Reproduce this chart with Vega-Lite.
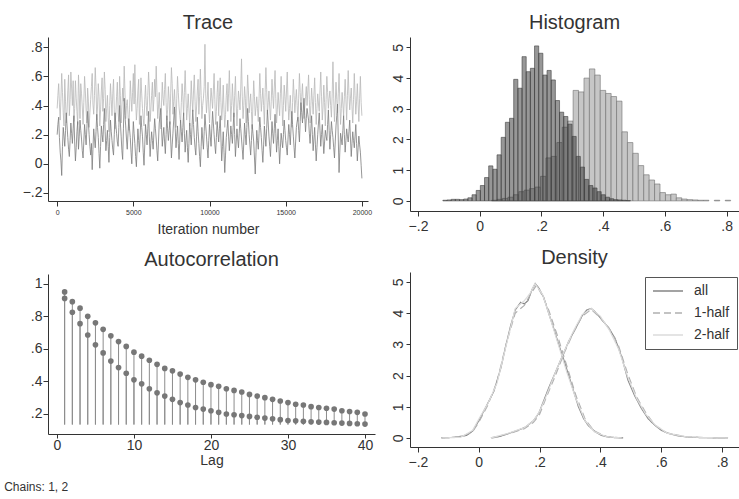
{
"$schema":"https://vega.github.io/schema/vega-lite/v6.json",
"background":"white",
"padding":{"left":4,"top":13,"right":0,"bottom":0},
"config":{"font":"Liberation Sans","view":{"stroke":null},
"axis":{"grid":false,"domainColor":"#333","tickColor":"#333","tickSize":5,"labelColor":"#333","labelFontSize":14,"labelFont":"Liberation Sans","titleFont":"Liberation Sans","titleFontSize":14,"titleFontWeight":"normal","titleColor":"#333","labelPadding":2,"domainWidth":1,"labelOverlap":false,"labelFlush":false,"labelBound":false,"tickCount":12},
"title":{"fontSize":20,"fontWeight":"normal","color":"#333","font":"Liberation Sans","offset":4}},
"title":{"text":"Chains: 1, 2","orient":"bottom","anchor":"start","fontSize":12,"fontWeight":"normal","color":"#333","dx":-18,"offset":13},
"datasets":{
"trace2":[{"t":0,"v":0.38},{"t":50,"v":0.47},{"t":100,"v":0.55},{"t":150,"v":0.41},{"t":200,"v":0.30},{"t":250,"v":0.45},{"t":300,"v":0.62},{"t":350,"v":0.49},{"t":400,"v":0.35},{"t":450,"v":0.26},{"t":500,"v":0.58},{"t":550,"v":0.43},{"t":600,"v":0.28},{"t":650,"v":0.36},{"t":700,"v":0.50},{"t":750,"v":0.61},{"t":800,"v":0.33},{"t":850,"v":0.44},{"t":900,"v":0.63},{"t":950,"v":0.52},{"t":1000,"v":0.40},{"t":1050,"v":0.57},{"t":1100,"v":0.29},{"t":1150,"v":0.38},{"t":1200,"v":0.57},{"t":1250,"v":0.45},{"t":1300,"v":0.36},{"t":1350,"v":0.27},{"t":1400,"v":0.61},{"t":1450,"v":0.48},{"t":1500,"v":0.31},{"t":1550,"v":0.55},{"t":1600,"v":0.48},{"t":1650,"v":0.39},{"t":1700,"v":0.27},{"t":1750,"v":0.42},{"t":1800,"v":0.60},{"t":1850,"v":0.50},{"t":1900,"v":0.37},{"t":1950,"v":0.28},{"t":2000,"v":0.52},{"t":2050,"v":0.43},{"t":2100,"v":0.25},{"t":2150,"v":0.35},{"t":2200,"v":0.44},{"t":2250,"v":0.53},{"t":2300,"v":0.62},{"t":2350,"v":0.41},{"t":2400,"v":0.34},{"t":2450,"v":0.47},{"t":2500,"v":0.66},{"t":2550,"v":0.53},{"t":2600,"v":0.30},{"t":2650,"v":0.39},{"t":2700,"v":0.55},{"t":2750,"v":0.46},{"t":2800,"v":0.26},{"t":2850,"v":0.37},{"t":2900,"v":0.50},{"t":2950,"v":0.59},{"t":3000,"v":0.36},{"t":3050,"v":0.45},{"t":3100,"v":0.63},{"t":3150,"v":0.51},{"t":3200,"v":0.29},{"t":3250,"v":0.38},{"t":3300,"v":0.47},{"t":3350,"v":0.32},{"t":3400,"v":0.22},{"t":3450,"v":0.40},{"t":3500,"v":0.55},{"t":3550,"v":0.44},{"t":3600,"v":0.33},{"t":3650,"v":0.48},{"t":3700,"v":0.58},{"t":3750,"v":0.37},{"t":3800,"v":0.24},{"t":3850,"v":0.34},{"t":3900,"v":0.46},{"t":3950,"v":0.56},{"t":4000,"v":0.35},{"t":4050,"v":0.29},{"t":4100,"v":0.60},{"t":4150,"v":0.47},{"t":4200,"v":0.28},{"t":4250,"v":0.39},{"t":4300,"v":0.52},{"t":4350,"v":0.43},{"t":4400,"v":0.67},{"t":4450,"v":0.50},{"t":4500,"v":0.31},{"t":4550,"v":0.40},{"t":4600,"v":0.44},{"t":4650,"v":0.34},{"t":4700,"v":0.23},{"t":4750,"v":0.37},{"t":4800,"v":0.57},{"t":4850,"v":0.46},{"t":4900,"v":0.36},{"t":4950,"v":0.49},{"t":5000,"v":0.62},{"t":5050,"v":0.41},{"t":5100,"v":0.68},{"t":5150,"v":0.45},{"t":5200,"v":0.30},{"t":5250,"v":0.38},{"t":5300,"v":0.50},{"t":5350,"v":0.58},{"t":5400,"v":0.27},{"t":5450,"v":0.42},{"t":5500,"v":0.59},{"t":5550,"v":0.48},{"t":5600,"v":0.38},{"t":5650,"v":0.31},{"t":5700,"v":0.26},{"t":5750,"v":0.44},{"t":5800,"v":0.54},{"t":5850,"v":0.40},{"t":5900,"v":0.33},{"t":5950,"v":0.47},{"t":6000,"v":0.63},{"t":6050,"v":0.52},{"t":6100,"v":0.29},{"t":6150,"v":0.37},{"t":6200,"v":0.47},{"t":6250,"v":0.56},{"t":6300,"v":0.36},{"t":6350,"v":0.44},{"t":6400,"v":0.58},{"t":6450,"v":0.46},{"t":6500,"v":0.67},{"t":6550,"v":0.49},{"t":6600,"v":0.31},{"t":6650,"v":0.39},{"t":6700,"v":0.49},{"t":6750,"v":0.35},{"t":6800,"v":0.24},{"t":6850,"v":0.41},{"t":6900,"v":0.56},{"t":6950,"v":0.45},{"t":7000,"v":0.40},{"t":7050,"v":0.51},{"t":7100,"v":0.62},{"t":7150,"v":0.42},{"t":7200,"v":0.30},{"t":7250,"v":0.37},{"t":7300,"v":0.53},{"t":7350,"v":0.44},{"t":7400,"v":0.27},{"t":7450,"v":0.48},{"t":7500,"v":0.66},{"t":7550,"v":0.55},{"t":7600,"v":0.34},{"t":7650,"v":0.43},{"t":7700,"v":0.51},{"t":7750,"v":0.38},{"t":7800,"v":0.25},{"t":7850,"v":0.45},{"t":7900,"v":0.60},{"t":7950,"v":0.49},{"t":8000,"v":0.39},{"t":8050,"v":0.33},{"t":8100,"v":0.28},{"t":8150,"v":0.42},{"t":8200,"v":0.55},{"t":8250,"v":0.46},{"t":8300,"v":0.33},{"t":8350,"v":0.49},{"t":8400,"v":0.64},{"t":8450,"v":0.47},{"t":8500,"v":0.30},{"t":8550,"v":0.38},{"t":8600,"v":0.48},{"t":8650,"v":0.37},{"t":8700,"v":0.26},{"t":8750,"v":0.41},{"t":8800,"v":0.57},{"t":8850,"v":0.44},{"t":8900,"v":0.36},{"t":8950,"v":0.50},{"t":9000,"v":0.61},{"t":9050,"v":0.43},{"t":9100,"v":0.29},{"t":9150,"v":0.39},{"t":9200,"v":0.50},{"t":9250,"v":0.58},{"t":9300,"v":0.34},{"t":9350,"v":0.46},{"t":9400,"v":0.65},{"t":9450,"v":0.47},{"t":9500,"v":0.31},{"t":9550,"v":0.40},{"t":9600,"v":0.45},{"t":9650,"v":0.53},{"t":9700,"v":0.82},{"t":9750,"v":0.48},{"t":9800,"v":0.35},{"t":9850,"v":0.44},{"t":9900,"v":0.56},{"t":9950,"v":0.39},{"t":10000,"v":0.28},{"t":10050,"v":0.41},{"t":10100,"v":0.52},{"t":10150,"v":0.45},{"t":10200,"v":0.38},{"t":10250,"v":0.50},{"t":10300,"v":0.62},{"t":10350,"v":0.44},{"t":10400,"v":0.27},{"t":10450,"v":0.36},{"t":10500,"v":0.49},{"t":10550,"v":0.57},{"t":10600,"v":0.33},{"t":10650,"v":0.46},{"t":10700,"v":0.59},{"t":10750,"v":0.42},{"t":10800,"v":0.30},{"t":10850,"v":0.39},{"t":10900,"v":0.54},{"t":10950,"v":0.37},{"t":11000,"v":0.25},{"t":11050,"v":0.34},{"t":11100,"v":0.47},{"t":11150,"v":0.55},{"t":11200,"v":0.36},{"t":11250,"v":0.48},{"t":11300,"v":0.64},{"t":11350,"v":0.45},{"t":11400,"v":0.29},{"t":11450,"v":0.40},{"t":11500,"v":0.55},{"t":11550,"v":0.43},{"t":11600,"v":0.32},{"t":11650,"v":0.47},{"t":11700,"v":0.60},{"t":11750,"v":0.41},{"t":11800,"v":0.26},{"t":11850,"v":0.38},{"t":11900,"v":0.50},{"t":11950,"v":0.44},{"t":12000,"v":0.37},{"t":12050,"v":0.52},{"t":12100,"v":0.72},{"t":12150,"v":0.46},{"t":12200,"v":0.31},{"t":12250,"v":0.40},{"t":12300,"v":0.53},{"t":12350,"v":0.45},{"t":12400,"v":0.28},{"t":12450,"v":0.43},{"t":12500,"v":0.61},{"t":12550,"v":0.50},{"t":12600,"v":0.35},{"t":12650,"v":0.42},{"t":12700,"v":0.48},{"t":12750,"v":0.36},{"t":12800,"v":0.24},{"t":12850,"v":0.41},{"t":12900,"v":0.57},{"t":12950,"v":0.46},{"t":13000,"v":0.33},{"t":13050,"v":0.39},{"t":13100,"v":0.46},{"t":13150,"v":0.38},{"t":13200,"v":0.29},{"t":13250,"v":0.45},{"t":13300,"v":0.62},{"t":13350,"v":0.48},{"t":13400,"v":0.36},{"t":13450,"v":0.44},{"t":13500,"v":0.52},{"t":13550,"v":0.40},{"t":13600,"v":0.27},{"t":13650,"v":0.49},{"t":13700,"v":0.66},{"t":13750,"v":0.51},{"t":13800,"v":0.34},{"t":13850,"v":0.42},{"t":13900,"v":0.50},{"t":13950,"v":0.39},{"t":14000,"v":0.30},{"t":14050,"v":0.43},{"t":14100,"v":0.58},{"t":14150,"v":0.47},{"t":14200,"v":0.38},{"t":14250,"v":0.52},{"t":14300,"v":0.64},{"t":14350,"v":0.45},{"t":14400,"v":0.28},{"t":14450,"v":0.37},{"t":14500,"v":0.49},{"t":14550,"v":0.41},{"t":14600,"v":0.33},{"t":14650,"v":0.48},{"t":14700,"v":0.60},{"t":14750,"v":0.44},{"t":14800,"v":0.26},{"t":14850,"v":0.40},{"t":14900,"v":0.54},{"t":14950,"v":0.46},{"t":15000,"v":0.36},{"t":15050,"v":0.50},{"t":15100,"v":0.63},{"t":15150,"v":0.43},{"t":15200,"v":0.30},{"t":15250,"v":0.38},{"t":15300,"v":0.47},{"t":15350,"v":0.35},{"t":15400,"v":0.25},{"t":15450,"v":0.42},{"t":15500,"v":0.58},{"t":15550,"v":0.47},{"t":15600,"v":0.35},{"t":15650,"v":0.44},{"t":15700,"v":0.51},{"t":15750,"v":0.40},{"t":15800,"v":0.29},{"t":15850,"v":0.45},{"t":15900,"v":0.62},{"t":15950,"v":0.49},{"t":16000,"v":0.37},{"t":16050,"v":0.46},{"t":16100,"v":0.55},{"t":16150,"v":0.41},{"t":16200,"v":0.31},{"t":16250,"v":0.39},{"t":16300,"v":0.46},{"t":16350,"v":0.53},{"t":16400,"v":0.40},{"t":16450,"v":0.50},{"t":16500,"v":0.61},{"t":16550,"v":0.44},{"t":16600,"v":0.28},{"t":16650,"v":0.40},{"t":16700,"v":0.52},{"t":16750,"v":0.43},{"t":16800,"v":0.34},{"t":16850,"v":0.47},{"t":16900,"v":0.59},{"t":16950,"v":0.42},{"t":17000,"v":0.27},{"t":17050,"v":0.38},{"t":17100,"v":0.48},{"t":17150,"v":0.41},{"t":17200,"v":0.36},{"t":17250,"v":0.50},{"t":17300,"v":0.63},{"t":17350,"v":0.46},{"t":17400,"v":0.30},{"t":17450,"v":0.39},{"t":17500,"v":0.54},{"t":17550,"v":0.42},{"t":17600,"v":0.26},{"t":17650,"v":0.44},{"t":17700,"v":0.60},{"t":17750,"v":0.49},{"t":17800,"v":0.38},{"t":17850,"v":0.45},{"t":17900,"v":0.50},{"t":17950,"v":0.40},{"t":18000,"v":0.32},{"t":18050,"v":0.48},{"t":18100,"v":0.70},{"t":18150,"v":0.45},{"t":18200,"v":0.29},{"t":18250,"v":0.41},{"t":18300,"v":0.56},{"t":18350,"v":0.44},{"t":18400,"v":0.35},{"t":18450,"v":0.48},{"t":18500,"v":0.62},{"t":18550,"v":0.43},{"t":18600,"v":0.27},{"t":18650,"v":0.38},{"t":18700,"v":0.49},{"t":18750,"v":0.41},{"t":18800,"v":0.33},{"t":18850,"v":0.46},{"t":18900,"v":0.58},{"t":18950,"v":0.44},{"t":19000,"v":0.30},{"t":19050,"v":0.47},{"t":19100,"v":0.64},{"t":19150,"v":0.48},{"t":19200,"v":0.37},{"t":19250,"v":0.45},{"t":19300,"v":0.52},{"t":19350,"v":0.39},{"t":19400,"v":0.28},{"t":19450,"v":0.44},{"t":19500,"v":0.62},{"t":19550,"v":0.47},{"t":19600,"v":0.34},{"t":19650,"v":0.43},{"t":19700,"v":0.55},{"t":19750,"v":0.41},{"t":19800,"v":0.29},{"t":19850,"v":0.45},{"t":19900,"v":0.60},{"t":19950,"v":0.42},{"t":20000,"v":0.33}],
"trace1":[{"t":0,"v":0.20},{"t":50,"v":0.27},{"t":100,"v":0.32},{"t":150,"v":0.18},{"t":200,"v":0.08},{"t":250,"v":0.02},{"t":300,"v":-0.08},{"t":350,"v":0.12},{"t":400,"v":0.25},{"t":450,"v":0.19},{"t":500,"v":0.12},{"t":550,"v":0.23},{"t":600,"v":0.35},{"t":650,"v":0.26},{"t":700,"v":0.18},{"t":750,"v":0.10},{"t":800,"v":0.05},{"t":850,"v":0.16},{"t":900,"v":0.28},{"t":950,"v":0.21},{"t":1000,"v":0.14},{"t":1050,"v":0.24},{"t":1100,"v":0.33},{"t":1150,"v":0.15},{"t":1200,"v":0.02},{"t":1250,"v":0.11},{"t":1300,"v":0.22},{"t":1350,"v":0.29},{"t":1400,"v":0.10},{"t":1450,"v":0.19},{"t":1500,"v":0.30},{"t":1550,"v":0.23},{"t":1600,"v":0.17},{"t":1650,"v":0.09},{"t":1700,"v":0.04},{"t":1750,"v":0.15},{"t":1800,"v":0.27},{"t":1850,"v":0.20},{"t":1900,"v":0.13},{"t":1950,"v":0.24},{"t":2000,"v":0.36},{"t":2050,"v":0.28},{"t":2100,"v":0.20},{"t":2150,"v":0.12},{"t":2200,"v":0.06},{"t":2250,"v":0.14},{"t":2300,"v":-0.04},{"t":2350,"v":0.10},{"t":2400,"v":0.24},{"t":2450,"v":0.17},{"t":2500,"v":0.11},{"t":2550,"v":0.22},{"t":2600,"v":0.34},{"t":2650,"v":0.25},{"t":2700,"v":0.18},{"t":2750,"v":0.07},{"t":2800,"v":-0.03},{"t":2850,"v":0.12},{"t":2900,"v":0.26},{"t":2950,"v":0.20},{"t":3000,"v":0.15},{"t":3050,"v":0.27},{"t":3100,"v":0.38},{"t":3150,"v":0.22},{"t":3200,"v":0.09},{"t":3250,"v":0.16},{"t":3300,"v":0.23},{"t":3350,"v":0.12},{"t":3400,"v":0.01},{"t":3450,"v":0.18},{"t":3500,"v":0.30},{"t":3550,"v":0.22},{"t":3600,"v":0.16},{"t":3650,"v":0.10},{"t":3700,"v":0.06},{"t":3750,"v":0.20},{"t":3800,"v":0.35},{"t":3850,"v":0.27},{"t":3900,"v":0.21},{"t":3950,"v":0.15},{"t":4000,"v":0.12},{"t":4050,"v":0.25},{"t":4100,"v":0.40},{"t":4150,"v":0.28},{"t":4200,"v":0.19},{"t":4250,"v":0.09},{"t":4300,"v":0.03},{"t":4350,"v":0.24},{"t":4400,"v":0.45},{"t":4450,"v":0.33},{"t":4500,"v":0.26},{"t":4550,"v":0.17},{"t":4600,"v":0.10},{"t":4650,"v":0.21},{"t":4700,"v":0.31},{"t":4750,"v":0.24},{"t":4800,"v":0.18},{"t":4850,"v":0.08},{"t":4900,"v":0.00},{"t":4950,"v":0.15},{"t":5000,"v":0.29},{"t":5050,"v":0.21},{"t":5100,"v":0.14},{"t":5150,"v":0.05},{"t":5200,"v":-0.02},{"t":5250,"v":0.11},{"t":5300,"v":0.24},{"t":5350,"v":0.16},{"t":5400,"v":0.08},{"t":5450,"v":0.20},{"t":5500,"v":0.33},{"t":5550,"v":0.25},{"t":5600,"v":0.19},{"t":5650,"v":0.08},{"t":5700,"v":-0.01},{"t":5750,"v":0.13},{"t":5800,"v":0.27},{"t":5850,"v":0.20},{"t":5900,"v":0.13},{"t":5950,"v":0.24},{"t":6000,"v":0.36},{"t":6050,"v":0.19},{"t":6100,"v":0.05},{"t":6150,"v":0.14},{"t":6200,"v":0.22},{"t":6250,"v":0.16},{"t":6300,"v":0.10},{"t":6350,"v":0.21},{"t":6400,"v":0.31},{"t":6450,"v":0.24},{"t":6500,"v":0.17},{"t":6550,"v":0.09},{"t":6600,"v":0.02},{"t":6650,"v":0.15},{"t":6700,"v":0.28},{"t":6750,"v":0.33},{"t":6800,"v":0.38},{"t":6850,"v":0.25},{"t":6900,"v":0.12},{"t":6950,"v":0.19},{"t":7000,"v":0.25},{"t":7050,"v":0.15},{"t":7100,"v":0.07},{"t":7150,"v":0.20},{"t":7200,"v":0.33},{"t":7250,"v":0.24},{"t":7300,"v":0.16},{"t":7350,"v":0.23},{"t":7400,"v":0.29},{"t":7450,"v":0.17},{"t":7500,"v":0.04},{"t":7550,"v":0.13},{"t":7600,"v":0.21},{"t":7650,"v":0.30},{"t":7700,"v":0.39},{"t":7750,"v":0.24},{"t":7800,"v":0.11},{"t":7850,"v":0.19},{"t":7900,"v":0.26},{"t":7950,"v":0.14},{"t":8000,"v":0.03},{"t":8050,"v":0.17},{"t":8100,"v":0.30},{"t":8150,"v":0.22},{"t":8200,"v":0.15},{"t":8250,"v":0.25},{"t":8300,"v":0.35},{"t":8350,"v":0.21},{"t":8400,"v":0.08},{"t":8450,"v":0.16},{"t":8500,"v":0.23},{"t":8550,"v":0.11},{"t":8600,"v":0.01},{"t":8650,"v":0.14},{"t":8700,"v":0.28},{"t":8750,"v":0.20},{"t":8800,"v":0.13},{"t":8850,"v":0.25},{"t":8900,"v":0.37},{"t":8950,"v":0.27},{"t":9000,"v":0.18},{"t":9050,"v":0.11},{"t":9100,"v":0.06},{"t":9150,"v":0.19},{"t":9200,"v":0.32},{"t":9250,"v":0.22},{"t":9300,"v":0.14},{"t":9350,"v":0.05},{"t":9400,"v":-0.02},{"t":9450,"v":0.12},{"t":9500,"v":0.25},{"t":9550,"v":0.17},{"t":9600,"v":0.10},{"t":9650,"v":0.22},{"t":9700,"v":0.34},{"t":9750,"v":0.26},{"t":9800,"v":0.19},{"t":9850,"v":0.11},{"t":9900,"v":0.04},{"t":9950,"v":0.16},{"t":10000,"v":0.27},{"t":10050,"v":0.19},{"t":10100,"v":0.12},{"t":10150,"v":0.24},{"t":10200,"v":0.36},{"t":10250,"v":0.28},{"t":10300,"v":0.20},{"t":10350,"v":0.13},{"t":10400,"v":0.07},{"t":10450,"v":0.18},{"t":10500,"v":0.29},{"t":10550,"v":0.22},{"t":10600,"v":0.15},{"t":10650,"v":0.24},{"t":10700,"v":0.33},{"t":10750,"v":0.17},{"t":10800,"v":0.02},{"t":10850,"v":0.12},{"t":10900,"v":0.22},{"t":10950,"v":0.08},{"t":11000,"v":-0.06},{"t":11050,"v":0.06},{"t":11100,"v":0.18},{"t":11150,"v":0.24},{"t":11200,"v":0.30},{"t":11250,"v":0.19},{"t":11300,"v":0.09},{"t":11350,"v":0.17},{"t":11400,"v":0.26},{"t":11450,"v":0.20},{"t":11500,"v":0.14},{"t":11550,"v":0.25},{"t":11600,"v":0.35},{"t":11650,"v":0.20},{"t":11700,"v":0.05},{"t":11750,"v":0.15},{"t":11800,"v":0.24},{"t":11850,"v":0.17},{"t":11900,"v":0.11},{"t":11950,"v":0.21},{"t":12000,"v":0.31},{"t":12050,"v":0.24},{"t":12100,"v":0.17},{"t":12150,"v":0.10},{"t":12200,"v":0.03},{"t":12250,"v":0.15},{"t":12300,"v":0.28},{"t":12350,"v":0.20},{"t":12400,"v":0.13},{"t":12450,"v":0.25},{"t":12500,"v":0.38},{"t":12550,"v":0.29},{"t":12600,"v":0.20},{"t":12650,"v":0.13},{"t":12700,"v":0.06},{"t":12750,"v":0.16},{"t":12800,"v":0.27},{"t":12850,"v":0.21},{"t":12900,"v":0.15},{"t":12950,"v":0.04},{"t":13000,"v":-0.07},{"t":13050,"v":0.08},{"t":13100,"v":0.23},{"t":13150,"v":0.16},{"t":13200,"v":0.10},{"t":13250,"v":0.21},{"t":13300,"v":0.32},{"t":13350,"v":0.25},{"t":13400,"v":0.18},{"t":13450,"v":0.09},{"t":13500,"v":0.01},{"t":13550,"v":0.13},{"t":13600,"v":0.26},{"t":13650,"v":0.19},{"t":13700,"v":0.12},{"t":13750,"v":0.24},{"t":13800,"v":0.37},{"t":13850,"v":0.28},{"t":13900,"v":0.19},{"t":13950,"v":0.12},{"t":14000,"v":0.05},{"t":14050,"v":0.17},{"t":14100,"v":0.29},{"t":14150,"v":0.21},{"t":14200,"v":0.14},{"t":14250,"v":0.24},{"t":14300,"v":0.34},{"t":14350,"v":0.21},{"t":14400,"v":0.08},{"t":14450,"v":0.16},{"t":14500,"v":0.24},{"t":14550,"v":0.12},{"t":14600,"v":0.00},{"t":14650,"v":0.11},{"t":14700,"v":0.21},{"t":14750,"v":0.16},{"t":14800,"v":0.11},{"t":14850,"v":0.20},{"t":14900,"v":0.30},{"t":14950,"v":0.23},{"t":15000,"v":0.16},{"t":15050,"v":0.11},{"t":15100,"v":0.06},{"t":15150,"v":0.17},{"t":15200,"v":0.27},{"t":15250,"v":0.20},{"t":15300,"v":0.13},{"t":15350,"v":0.25},{"t":15400,"v":0.36},{"t":15450,"v":0.27},{"t":15500,"v":0.19},{"t":15550,"v":0.11},{"t":15600,"v":0.04},{"t":15650,"v":0.15},{"t":15700,"v":0.25},{"t":15750,"v":0.29},{"t":15800,"v":0.32},{"t":15850,"v":0.23},{"t":15900,"v":0.15},{"t":15950,"v":0.29},{"t":16000,"v":0.42},{"t":16050,"v":0.35},{"t":16100,"v":0.28},{"t":16150,"v":0.37},{"t":16200,"v":0.45},{"t":16250,"v":0.33},{"t":16300,"v":0.22},{"t":16350,"v":0.31},{"t":16400,"v":0.38},{"t":16450,"v":0.34},{"t":16500,"v":0.30},{"t":16550,"v":0.21},{"t":16600,"v":0.14},{"t":16650,"v":0.24},{"t":16700,"v":0.33},{"t":16750,"v":0.20},{"t":16800,"v":0.09},{"t":16850,"v":0.17},{"t":16900,"v":0.25},{"t":16950,"v":0.13},{"t":17000,"v":0.02},{"t":17050,"v":0.11},{"t":17100,"v":0.20},{"t":17150,"v":0.28},{"t":17200,"v":0.35},{"t":17250,"v":0.23},{"t":17300,"v":0.12},{"t":17350,"v":0.20},{"t":17400,"v":0.27},{"t":17450,"v":0.17},{"t":17500,"v":0.07},{"t":17550,"v":0.15},{"t":17600,"v":0.23},{"t":17650,"v":0.19},{"t":17700,"v":0.16},{"t":17750,"v":0.27},{"t":17800,"v":0.37},{"t":17850,"v":0.23},{"t":17900,"v":0.10},{"t":17950,"v":0.20},{"t":18000,"v":0.29},{"t":18050,"v":0.23},{"t":18100,"v":0.18},{"t":18150,"v":0.11},{"t":18200,"v":0.04},{"t":18250,"v":0.15},{"t":18300,"v":0.26},{"t":18350,"v":0.33},{"t":18400,"v":0.41},{"t":18450,"v":0.17},{"t":18500,"v":-0.06},{"t":18550,"v":0.08},{"t":18600,"v":0.21},{"t":18650,"v":0.17},{"t":18700,"v":0.13},{"t":18750,"v":0.23},{"t":18800,"v":0.33},{"t":18850,"v":0.20},{"t":18900,"v":0.08},{"t":18950,"v":0.16},{"t":19000,"v":0.24},{"t":19050,"v":0.19},{"t":19100,"v":0.15},{"t":19150,"v":0.22},{"t":19200,"v":0.30},{"t":19250,"v":0.17},{"t":19300,"v":0.05},{"t":19350,"v":0.14},{"t":19400,"v":0.22},{"t":19450,"v":0.16},{"t":19500,"v":0.11},{"t":19550,"v":0.19},{"t":19600,"v":0.27},{"t":19650,"v":0.14},{"t":19700,"v":0.02},{"t":19750,"v":0.11},{"t":19800,"v":0.19},{"t":19850,"v":0.13},{"t":19900,"v":0.08},{"t":19950,"v":-0.01},{"t":20000,"v":-0.10}],
"hist1":[{"x0":-0.1195,"x1":-0.106,"h":0.02},{"x0":-0.106,"x1":-0.0925,"h":0.03},{"x0":-0.0925,"x1":-0.079,"h":0.05},{"x0":-0.079,"x1":-0.0655,"h":0.05},{"x0":-0.0655,"x1":-0.052,"h":0.04},{"x0":-0.052,"x1":-0.0385,"h":0.06},{"x0":-0.0385,"x1":-0.025,"h":0.1},{"x0":-0.025,"x1":-0.0115,"h":0.2},{"x0":-0.0115,"x1":0.002,"h":0.34},{"x0":0.002,"x1":0.0155,"h":0.5},{"x0":0.0155,"x1":0.029,"h":0.76},{"x0":0.029,"x1":0.0425,"h":1.14},{"x0":0.0425,"x1":0.056,"h":1.03},{"x0":0.056,"x1":0.0695,"h":1.5},{"x0":0.0695,"x1":0.083,"h":2.07},{"x0":0.083,"x1":0.0965,"h":2.56},{"x0":0.0965,"x1":0.11,"h":2.69},{"x0":0.11,"x1":0.1235,"h":3.96},{"x0":0.1235,"x1":0.137,"h":3.67},{"x0":0.137,"x1":0.1505,"h":4.7},{"x0":0.1505,"x1":0.164,"h":4.21},{"x0":0.164,"x1":0.1775,"h":4.32},{"x0":0.1775,"x1":0.191,"h":5.05},{"x0":0.191,"x1":0.2045,"h":4.81},{"x0":0.2045,"x1":0.218,"h":4.1},{"x0":0.218,"x1":0.2315,"h":4.25},{"x0":0.2315,"x1":0.245,"h":3.94},{"x0":0.245,"x1":0.2585,"h":3.27},{"x0":0.2585,"x1":0.272,"h":2.89},{"x0":0.272,"x1":0.2855,"h":2.75},{"x0":0.2855,"x1":0.299,"h":2.5},{"x0":0.299,"x1":0.3125,"h":2.1},{"x0":0.3125,"x1":0.326,"h":1.45},{"x0":0.326,"x1":0.3395,"h":1.1},{"x0":0.3395,"x1":0.353,"h":0.7},{"x0":0.353,"x1":0.3665,"h":0.5},{"x0":0.3665,"x1":0.38,"h":0.42},{"x0":0.38,"x1":0.3935,"h":0.3},{"x0":0.3935,"x1":0.407,"h":0.2},{"x0":0.407,"x1":0.4205,"h":0.12},{"x0":0.4205,"x1":0.434,"h":0.07},{"x0":0.434,"x1":0.4475,"h":0.04},{"x0":0.4475,"x1":0.461,"h":0.03},{"x0":0.461,"x1":0.4745,"h":0.02},{"x0":0.4745,"x1":0.488,"h":0.01}],
"hist2":[{"x0":0.0385,"x1":0.0561,"h":0.02},{"x0":0.0561,"x1":0.0737,"h":0.05},{"x0":0.0737,"x1":0.0913,"h":0.08},{"x0":0.0913,"x1":0.1089,"h":0.12},{"x0":0.1089,"x1":0.1265,"h":0.2},{"x0":0.1265,"x1":0.1441,"h":0.3},{"x0":0.1441,"x1":0.1617,"h":0.35},{"x0":0.1617,"x1":0.1793,"h":0.4},{"x0":0.1793,"x1":0.1969,"h":0.45},{"x0":0.1969,"x1":0.2145,"h":0.8},{"x0":0.2145,"x1":0.2321,"h":1.4},{"x0":0.2321,"x1":0.2497,"h":1.45},{"x0":0.2497,"x1":0.2673,"h":1.9},{"x0":0.2673,"x1":0.2849,"h":2.4},{"x0":0.2849,"x1":0.3025,"h":2.6},{"x0":0.3025,"x1":0.3201,"h":3.6},{"x0":0.3201,"x1":0.3377,"h":3.55},{"x0":0.3377,"x1":0.3553,"h":4.0},{"x0":0.3553,"x1":0.3729,"h":4.3},{"x0":0.3729,"x1":0.3905,"h":4.1},{"x0":0.3905,"x1":0.4081,"h":3.6},{"x0":0.4081,"x1":0.4257,"h":3.5},{"x0":0.4257,"x1":0.4433,"h":3.4},{"x0":0.4433,"x1":0.4609,"h":3.25},{"x0":0.4609,"x1":0.4785,"h":2.25},{"x0":0.4785,"x1":0.4961,"h":1.9},{"x0":0.4961,"x1":0.5137,"h":1.55},{"x0":0.5137,"x1":0.5313,"h":1.15},{"x0":0.5313,"x1":0.5489,"h":0.85},{"x0":0.5489,"x1":0.5665,"h":0.68},{"x0":0.5665,"x1":0.5841,"h":0.55},{"x0":0.5841,"x1":0.6017,"h":0.27},{"x0":0.6017,"x1":0.6193,"h":0.2},{"x0":0.6193,"x1":0.6369,"h":0.22},{"x0":0.6369,"x1":0.6545,"h":0.1},{"x0":0.6545,"x1":0.6721,"h":0.06},{"x0":0.6721,"x1":0.6897,"h":0.04},{"x0":0.6897,"x1":0.7073,"h":0.03},{"x0":0.7073,"x1":0.7249,"h":0.02},{"x0":0.7249,"x1":0.7425,"h":0.02},{"x0":0.7601,"x1":0.7777,"h":0.02},{"x0":0.7953,"x1":0.8129,"h":0.02}],
"acf":[{"lag":1,"c":1,"r":0.95},{"lag":2,"c":1,"r":0.89},{"lag":3,"c":1,"r":0.85},{"lag":4,"c":1,"r":0.80},{"lag":5,"c":1,"r":0.76},{"lag":6,"c":1,"r":0.72},{"lag":7,"c":1,"r":0.68},{"lag":8,"c":1,"r":0.645},{"lag":9,"c":1,"r":0.615},{"lag":10,"c":1,"r":0.58},{"lag":11,"c":1,"r":0.555},{"lag":12,"c":1,"r":0.53},{"lag":13,"c":1,"r":0.505},{"lag":14,"c":1,"r":0.48},{"lag":15,"c":1,"r":0.465},{"lag":16,"c":1,"r":0.445},{"lag":17,"c":1,"r":0.425},{"lag":18,"c":1,"r":0.41},{"lag":19,"c":1,"r":0.395},{"lag":20,"c":1,"r":0.38},{"lag":21,"c":1,"r":0.37},{"lag":22,"c":1,"r":0.355},{"lag":23,"c":1,"r":0.345},{"lag":24,"c":1,"r":0.335},{"lag":25,"c":1,"r":0.32},{"lag":26,"c":1,"r":0.31},{"lag":27,"c":1,"r":0.30},{"lag":28,"c":1,"r":0.29},{"lag":29,"c":1,"r":0.28},{"lag":30,"c":1,"r":0.27},{"lag":31,"c":1,"r":0.26},{"lag":32,"c":1,"r":0.255},{"lag":33,"c":1,"r":0.245},{"lag":34,"c":1,"r":0.24},{"lag":35,"c":1,"r":0.235},{"lag":36,"c":1,"r":0.23},{"lag":37,"c":1,"r":0.22},{"lag":38,"c":1,"r":0.215},{"lag":39,"c":1,"r":0.21},{"lag":40,"c":1,"r":0.20},
{"lag":1,"c":2,"r":0.91},{"lag":2,"c":2,"r":0.825},{"lag":3,"c":2,"r":0.755},{"lag":4,"c":2,"r":0.685},{"lag":5,"c":2,"r":0.625},{"lag":6,"c":2,"r":0.575},{"lag":7,"c":2,"r":0.525},{"lag":8,"c":2,"r":0.485},{"lag":9,"c":2,"r":0.45},{"lag":10,"c":2,"r":0.41},{"lag":11,"c":2,"r":0.385},{"lag":12,"c":2,"r":0.355},{"lag":13,"c":2,"r":0.33},{"lag":14,"c":2,"r":0.31},{"lag":15,"c":2,"r":0.29},{"lag":16,"c":2,"r":0.27},{"lag":17,"c":2,"r":0.255},{"lag":18,"c":2,"r":0.24},{"lag":19,"c":2,"r":0.23},{"lag":20,"c":2,"r":0.22},{"lag":21,"c":2,"r":0.21},{"lag":22,"c":2,"r":0.20},{"lag":23,"c":2,"r":0.195},{"lag":24,"c":2,"r":0.19},{"lag":25,"c":2,"r":0.185},{"lag":26,"c":2,"r":0.18},{"lag":27,"c":2,"r":0.175},{"lag":28,"c":2,"r":0.17},{"lag":29,"c":2,"r":0.165},{"lag":30,"c":2,"r":0.16},{"lag":31,"c":2,"r":0.158},{"lag":32,"c":2,"r":0.155},{"lag":33,"c":2,"r":0.152},{"lag":34,"c":2,"r":0.15},{"lag":35,"c":2,"r":0.148},{"lag":36,"c":2,"r":0.146},{"lag":37,"c":2,"r":0.144},{"lag":38,"c":2,"r":0.142},{"lag":39,"c":2,"r":0.14},{"lag":40,"c":2,"r":0.138}],
"dens":[
{"c":1,"s":"all","x":-0.123,"y":0},{"c":1,"s":"all","x":-0.08,"y":0.02},{"c":1,"s":"all","x":-0.04,"y":0.08},{"c":1,"s":"all","x":-0.02,"y":0.22},{"c":1,"s":"all","x":0.0,"y":0.55},{"c":1,"s":"all","x":0.024,"y":1.0},{"c":1,"s":"all","x":0.05,"y":1.5},{"c":1,"s":"all","x":0.073,"y":2.25},{"c":1,"s":"all","x":0.089,"y":2.95},{"c":1,"s":"all","x":0.105,"y":3.6},{"c":1,"s":"all","x":0.12,"y":4.1},{"c":1,"s":"all","x":0.138,"y":4.35},{"c":1,"s":"all","x":0.15,"y":4.3},{"c":1,"s":"all","x":0.162,"y":4.4},{"c":1,"s":"all","x":0.175,"y":4.75},{"c":1,"s":"all","x":0.186,"y":4.95},{"c":1,"s":"all","x":0.198,"y":4.8},{"c":1,"s":"all","x":0.214,"y":4.5},{"c":1,"s":"all","x":0.23,"y":4.0},{"c":1,"s":"all","x":0.247,"y":3.5},{"c":1,"s":"all","x":0.263,"y":3.0},{"c":1,"s":"all","x":0.28,"y":2.5},{"c":1,"s":"all","x":0.296,"y":2.0},{"c":1,"s":"all","x":0.312,"y":1.5},{"c":1,"s":"all","x":0.328,"y":1.0},{"c":1,"s":"all","x":0.345,"y":0.62},{"c":1,"s":"all","x":0.36,"y":0.4},{"c":1,"s":"all","x":0.383,"y":0.2},{"c":1,"s":"all","x":0.404,"y":0.08},{"c":1,"s":"all","x":0.426,"y":0.03},{"c":1,"s":"all","x":0.45,"y":0.01},{"c":1,"s":"all","x":0.475,"y":0},
{"c":1,"s":"1-half","x":-0.12,"y":0},{"c":1,"s":"1-half","x":-0.06,"y":0.03},{"c":1,"s":"1-half","x":-0.02,"y":0.2},{"c":1,"s":"1-half","x":0.0,"y":0.5},{"c":1,"s":"1-half","x":0.03,"y":1.05},{"c":1,"s":"1-half","x":0.06,"y":1.8},{"c":1,"s":"1-half","x":0.09,"y":3.0},{"c":1,"s":"1-half","x":0.12,"y":4.0},{"c":1,"s":"1-half","x":0.15,"y":4.25},{"c":1,"s":"1-half","x":0.17,"y":4.6},{"c":1,"s":"1-half","x":0.19,"y":4.9},{"c":1,"s":"1-half","x":0.21,"y":4.55},{"c":1,"s":"1-half","x":0.23,"y":4.1},{"c":1,"s":"1-half","x":0.26,"y":3.25},{"c":1,"s":"1-half","x":0.29,"y":2.3},{"c":1,"s":"1-half","x":0.32,"y":1.35},{"c":1,"s":"1-half","x":0.35,"y":0.6},{"c":1,"s":"1-half","x":0.38,"y":0.22},{"c":1,"s":"1-half","x":0.42,"y":0.05},{"c":1,"s":"1-half","x":0.47,"y":0},
{"c":1,"s":"2-half","x":-0.12,"y":0},{"c":1,"s":"2-half","x":-0.06,"y":0.02},{"c":1,"s":"2-half","x":-0.02,"y":0.24},{"c":1,"s":"2-half","x":0.0,"y":0.6},{"c":1,"s":"2-half","x":0.03,"y":1.1},{"c":1,"s":"2-half","x":0.06,"y":1.75},{"c":1,"s":"2-half","x":0.09,"y":2.95},{"c":1,"s":"2-half","x":0.12,"y":4.15},{"c":1,"s":"2-half","x":0.15,"y":4.4},{"c":1,"s":"2-half","x":0.17,"y":4.65},{"c":1,"s":"2-half","x":0.185,"y":4.95},{"c":1,"s":"2-half","x":0.21,"y":4.6},{"c":1,"s":"2-half","x":0.23,"y":4.0},{"c":1,"s":"2-half","x":0.26,"y":3.05},{"c":1,"s":"2-half","x":0.29,"y":2.1},{"c":1,"s":"2-half","x":0.32,"y":1.25},{"c":1,"s":"2-half","x":0.35,"y":0.55},{"c":1,"s":"2-half","x":0.38,"y":0.2},{"c":1,"s":"2-half","x":0.42,"y":0.04},{"c":1,"s":"2-half","x":0.47,"y":0},
{"c":2,"s":"all","x":0.043,"y":0},{"c":2,"s":"all","x":0.07,"y":0.05},{"c":2,"s":"all","x":0.1,"y":0.15},{"c":2,"s":"all","x":0.13,"y":0.25},{"c":2,"s":"all","x":0.154,"y":0.35},{"c":2,"s":"all","x":0.18,"y":0.55},{"c":2,"s":"all","x":0.198,"y":0.8},{"c":2,"s":"all","x":0.214,"y":1.2},{"c":2,"s":"all","x":0.23,"y":1.6},{"c":2,"s":"all","x":0.252,"y":2.1},{"c":2,"s":"all","x":0.274,"y":2.6},{"c":2,"s":"all","x":0.296,"y":3.1},{"c":2,"s":"all","x":0.318,"y":3.5},{"c":2,"s":"all","x":0.339,"y":3.9},{"c":2,"s":"all","x":0.355,"y":4.1},{"c":2,"s":"all","x":0.37,"y":4.15},{"c":2,"s":"all","x":0.383,"y":4.05},{"c":2,"s":"all","x":0.404,"y":3.8},{"c":2,"s":"all","x":0.426,"y":3.55},{"c":2,"s":"all","x":0.448,"y":3.2},{"c":2,"s":"all","x":0.47,"y":2.6},{"c":2,"s":"all","x":0.491,"y":1.85},{"c":2,"s":"all","x":0.513,"y":1.35},{"c":2,"s":"all","x":0.535,"y":0.95},{"c":2,"s":"all","x":0.557,"y":0.62},{"c":2,"s":"all","x":0.578,"y":0.42},{"c":2,"s":"all","x":0.6,"y":0.25},{"c":2,"s":"all","x":0.622,"y":0.15},{"c":2,"s":"all","x":0.654,"y":0.07},{"c":2,"s":"all","x":0.687,"y":0.03},{"c":2,"s":"all","x":0.73,"y":0.01},{"c":2,"s":"all","x":0.82,"y":0},
{"c":2,"s":"1-half","x":0.04,"y":0},{"c":2,"s":"1-half","x":0.1,"y":0.14},{"c":2,"s":"1-half","x":0.15,"y":0.3},{"c":2,"s":"1-half","x":0.18,"y":0.5},{"c":2,"s":"1-half","x":0.2,"y":0.75},{"c":2,"s":"1-half","x":0.22,"y":1.25},{"c":2,"s":"1-half","x":0.25,"y":1.95},{"c":2,"s":"1-half","x":0.28,"y":2.7},{"c":2,"s":"1-half","x":0.31,"y":3.35},{"c":2,"s":"1-half","x":0.34,"y":3.9},{"c":2,"s":"1-half","x":0.37,"y":4.12},{"c":2,"s":"1-half","x":0.4,"y":3.85},{"c":2,"s":"1-half","x":0.43,"y":3.5},{"c":2,"s":"1-half","x":0.46,"y":2.95},{"c":2,"s":"1-half","x":0.49,"y":2.05},{"c":2,"s":"1-half","x":0.52,"y":1.3},{"c":2,"s":"1-half","x":0.55,"y":0.8},{"c":2,"s":"1-half","x":0.58,"y":0.4},{"c":2,"s":"1-half","x":0.62,"y":0.16},{"c":2,"s":"1-half","x":0.68,"y":0.04},{"c":2,"s":"1-half","x":0.75,"y":0.01},{"c":2,"s":"1-half","x":0.82,"y":0},
{"c":2,"s":"2-half","x":0.04,"y":0},{"c":2,"s":"2-half","x":0.1,"y":0.16},{"c":2,"s":"2-half","x":0.15,"y":0.33},{"c":2,"s":"2-half","x":0.18,"y":0.55},{"c":2,"s":"2-half","x":0.2,"y":0.85},{"c":2,"s":"2-half","x":0.22,"y":1.3},{"c":2,"s":"2-half","x":0.25,"y":2.05},{"c":2,"s":"2-half","x":0.28,"y":2.75},{"c":2,"s":"2-half","x":0.31,"y":3.4},{"c":2,"s":"2-half","x":0.34,"y":3.95},{"c":2,"s":"2-half","x":0.37,"y":4.15},{"c":2,"s":"2-half","x":0.4,"y":3.9},{"c":2,"s":"2-half","x":0.43,"y":3.45},{"c":2,"s":"2-half","x":0.46,"y":2.85},{"c":2,"s":"2-half","x":0.49,"y":1.95},{"c":2,"s":"2-half","x":0.52,"y":1.25},{"c":2,"s":"2-half","x":0.55,"y":0.75},{"c":2,"s":"2-half","x":0.58,"y":0.42},{"c":2,"s":"2-half","x":0.62,"y":0.15},{"c":2,"s":"2-half","x":0.68,"y":0.04},{"c":2,"s":"2-half","x":0.75,"y":0.01},{"c":2,"s":"2-half","x":0.82,"y":0}]
},
"hconcat":[
{"vconcat":[
{"title":{"text":"Trace"},"width":320,"height":164,
"layer":[
{"data":{"name":"trace2"},"mark":{"type":"line","color":"#b8b8b8","strokeWidth":0.8,"clip":true},
"encoding":{"x":{"field":"t","type":"quantitative","scale":{"domain":[-600,20400],"nice":false,"zero":false},"axis":{"values":[0,5000,10000,15000,20000],"format":"d","labelFontSize":7,"title":"Iteration number","titlePadding":7}},
"y":{"field":"v","type":"quantitative","scale":{"domain":[-0.255,0.87],"nice":false,"zero":false},"axis":{"values":[-0.2,0,0.2,0.4,0.6,0.8],"tickCount":12,"labelExpr":"replace(format(datum.value,'.1~f'),'0.','.')","title":null,"labelPadding":1}}}},
{"data":{"name":"trace1"},"mark":{"type":"line","color":"#7c7c7c","strokeWidth":0.8,"clip":true},
"encoding":{"x":{"field":"t","type":"quantitative"},"y":{"field":"v","type":"quantitative"}}}
]},
{"title":{"text":"Autocorrelation"},"width":327,"height":160,"data":{"name":"acf"},
"layer":[
{"mark":{"type":"rule","color":"#8c8c8c","strokeWidth":1},
"encoding":{"x":{"field":"lag","type":"quantitative","scale":{"domain":[-1.16,41.3],"nice":false,"zero":false},"axis":{"values":[0,10,20,30,40],"title":"Lag","titlePadding":1,"tickSize":4,"labelPadding":0}},
"y":{"field":"r","type":"quantitative","scale":{"domain":[0.077,1.06],"nice":false,"zero":false},"axis":{"values":[0.2,0.4,0.6,0.8,1],"tickCount":12,"labelExpr":"replace(format(datum.value,'.1~f'),'0.','.')","title":null,"labelPadding":1}},
"y2":{"datum":0.135}}},
{"mark":{"type":"point","filled":true,"color":"#777777","size":32,"opacity":1},
"encoding":{"x":{"field":"lag","type":"quantitative"},"y":{"field":"r","type":"quantitative"}}}
]}
],"spacing":14},
{"vconcat":[
{"title":{"text":"Histogram"},"width":329,"height":174,
"layer":[
{"data":{"name":"hist2"},"mark":{"type":"rect","fill":"#c6c6c6","stroke":"#6e6e6e","strokeWidth":0.6},
"encoding":{"x":{"field":"x0","type":"quantitative","scale":{"domain":[-0.226,0.84],"nice":false,"zero":false},"axis":{"values":[-0.2,0,0.2,0.4,0.6,0.8],"labelExpr":"replace(format(datum.value,'.1~f'),'0.','.')","title":null,"labelPadding":3}},
"x2":{"field":"x1"},
"y":{"field":"h","type":"quantitative","scale":{"domain":[-0.33,5.34],"nice":false,"zero":false},"axis":{"values":[0,1,2,3,4,5],"format":"d","tickCount":12,"labelAngle":-90,"title":null,"tickSize":4,"labelPadding":1}},
"y2":{"datum":0}}},
{"data":{"name":"hist1"},"mark":{"type":"rect","fill":"#303030","fillOpacity":0.5,"stroke":"#404040","strokeWidth":0.6},
"encoding":{"x":{"field":"x0","type":"quantitative"},"x2":{"field":"x1"},"y":{"field":"h","type":"quantitative"},"y2":{"datum":0}}}
]},
{"title":{"text":"Density"},"width":329,"height":175,"data":{"name":"dens"},
"mark":{"type":"line","strokeWidth":1.2},
"encoding":{"x":{"field":"x","type":"quantitative","scale":{"domain":[-0.226,0.856],"nice":false,"zero":false},"axis":{"values":[-0.2,0,0.2,0.4,0.6,0.8],"labelExpr":"replace(format(datum.value,'.1~f'),'0.','.')","title":null,"labelPadding":3}},
"y":{"field":"y","type":"quantitative","scale":{"domain":[-0.29,5.32],"nice":false,"zero":false},"axis":{"values":[0,1,2,3,4,5],"format":"d","tickCount":12,"labelAngle":-90,"title":null,"tickSize":4,"labelPadding":1}},
"color":{"field":"s","type":"nominal","scale":{"domain":["all","1-half","2-half"],"range":["#858585","#b0b0b0","#dcdcdc"]},
"legend":{"orient":"none","legendX":597,"legendY":240,"title":null,"strokeColor":"#555","fillColor":"white","padding":7,"symbolType":"stroke","symbolSize":900,"symbolStrokeWidth":1.5,"labelFontSize":14,"labelColor":"#333","labelOffset":10,"rowPadding":8,"clipHeight":14}},
"strokeDash":{"field":"s","type":"nominal","scale":{"domain":["all","1-half","2-half"],"range":[[1,0],[7,4],[1,0]]}},
"detail":{"field":"c"}}}
],"spacing":15}
],"spacing":16}
